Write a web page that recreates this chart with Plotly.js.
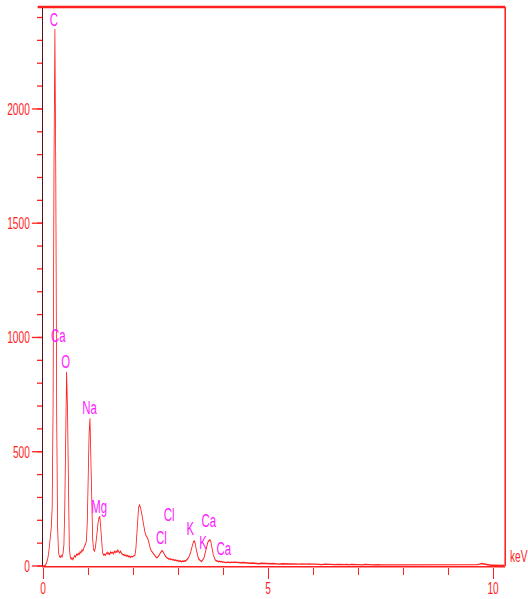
<!DOCTYPE html>
<html>
<head>
<meta charset="utf-8">
<script src="https://cdn.plot.ly/plotly-3.0.1.min.js"></script>
<style>
  html, body { margin: 0; padding: 0; overflow: hidden; background: #ffffff; }
  /* The spectrum is laid out wide and then condensed horizontally,
     giving the tall, narrow lettering of the instrument printout. */
  #chart { width: 880px; height: 599px; transform: scaleX(0.6); transform-origin: 0 0; }
</style>
</head>
<body>
<div id="chart"></div>
<script>
// EDS spectrum: counts per channel, 0.02 keV channels from 0 to 4.18 keV
var lowKeV = [
  0.00,0.02,0.04,0.06,0.08,0.10,0.12,0.14,0.16,0.18,
  0.20,0.22,0.24,0.26,0.28,0.30,0.32,0.34,0.36,0.38,
  0.40,0.42,0.44,0.46,0.48,0.50,0.52,0.54,0.56,0.58,
  0.60,0.62,0.64,0.66,0.68,0.70,0.72,0.74,0.76,0.78,
  0.80,0.82,0.84,0.86,0.88,0.90,0.92,0.94,0.96,0.98,
  1.00,1.02,1.04,1.06,1.08,1.10,1.12,1.14,1.16,1.18,
  1.20,1.22,1.24,1.26,1.28,1.30,1.32,1.34,1.36,1.38,
  1.40,1.42,1.44,1.46,1.48,1.50,1.52,1.54,1.56,1.58,
  1.60,1.62,1.64,1.66,1.68,1.70,1.72,1.74,1.76,1.78,
  1.80,1.82,1.84,1.86,1.88,1.90,1.92,1.94,1.96,1.98,
  2.00,2.02,2.04,2.06,2.08,2.10,2.12,2.14,2.16,2.18,
  2.20,2.22,2.24,2.26,2.28,2.30,2.32,2.34,2.36,2.38,
  2.40,2.42,2.44,2.46,2.48,2.50,2.52,2.54,2.56,2.58,
  2.60,2.62,2.64,2.66,2.68,2.70,2.72,2.74,2.76,2.78,
  2.80,2.82,2.84,2.86,2.88,2.90,2.92,2.94,2.96,2.98,
  3.00,3.02,3.04,3.06,3.08,3.10,3.12,3.14,3.16,3.18,
  3.20,3.22,3.24,3.26,3.28,3.30,3.32,3.34,3.36,3.38,
  3.40,3.42,3.44,3.46,3.48,3.50,3.52,3.54,3.56,3.58,
  3.60,3.62,3.64,3.66,3.68,3.70,3.72,3.74,3.76,3.78,
  3.80,3.82,3.84,3.86,3.88,3.90,3.92,3.94,3.96,3.98,
  4.00,4.02,4.04,4.06,4.08,4.10,4.12,4.14,4.16,4.18
];
var lowCounts = [
  0,0,2,8,17,32,55,90,125,170,
  260,700,1750,2350,1700,650,170,60,42,38,
  45,40,55,90,260,640,850,690,290,85,
  42,30,35,28,38,45,40,52,48,55,
  50,62,58,70,66,78,88,95,110,190,
  380,580,646,480,250,115,72,65,80,110,
  150,190,210,216,160,95,58,48,52,47,
  55,60,52,58,50,62,56,60,53,64,
  58,66,60,70,62,58,65,55,52,48,
  50,45,48,42,46,40,43,38,42,40,
  42,44,48,75,140,215,255,267,258,240,
  215,192,172,150,135,128,122,110,92,78,
  68,62,56,50,44,40,36,38,42,48,
  56,63,67,64,55,47,42,38,36,34,
  30,32,28,30,26,28,24,27,23,25,
  22,20,23,21,19,22,20,23,21,25,
  28,33,40,50,62,78,95,106,110,98,
  75,55,40,30,25,22,20,24,30,40,
  55,72,90,104,110,114,112,95,72,50,
  36,28,24,22,20,19,21,18,20,17,
  18,16,17,15,17,16,14,16,15,17
];

// High-energy tail, 0.05 keV steps from 4.20 to 10.25 keV
var highKeV = [
  4.20,4.25,4.30,4.35,4.40,4.45,4.50,
  4.55,4.60,4.65,4.70,4.75,4.80,4.85,4.90,4.95,5.00,
  5.05,5.10,5.15,5.20,5.25,5.30,5.35,5.40,5.45,5.50,
  5.55,5.60,5.65,5.70,5.75,5.80,5.85,5.90,5.95,6.00,
  6.05,6.10,6.15,6.20,6.25,6.30,6.35,6.40,6.45,6.50,
  6.55,6.60,6.65,6.70,6.75,6.80,6.85,6.90,6.95,7.00,
  7.05,7.10,7.15,7.20,7.25,7.30,7.35,7.40,7.45,7.50,
  7.55,7.60,7.65,7.70,7.75,7.80,7.85,7.90,7.95,8.00,
  8.05,8.10,8.15,8.20,8.25,8.30,8.35,8.40,8.45,8.50,
  8.55,8.60,8.65,8.70,8.75,8.80,8.85,8.90,8.95,9.00,
  9.05,9.10,9.15,9.20,9.25,9.30,9.35,9.40,9.45,9.50,
  9.55,9.60,9.65,9.70,9.75,9.80,9.85,9.90,9.95,10.00,
  10.05,10.10,10.15,10.20,10.25
];
var highCounts = [
  16,17,15,16,14,15,13,
  14,12,13,11,12,10,12,11,10,11,
  10,11,9,10,8,10,9,11,8,9,
  9,8,10,8,9,7,8,9,7,8,
  8,7,8,6,8,7,6,8,7,6,
  7,6,8,6,7,5,7,6,5,7,
  6,5,7,5,6,5,6,4,6,5,
  5,6,4,5,6,4,5,4,6,5,
  4,5,4,6,4,5,3,5,4,5,
  4,3,5,4,5,3,4,5,3,4,
  4,3,4,5,3,4,3,5,4,3,
  4,5,6,8,11,9,6,4,3,4,
  3,4,3,2,3
];

// Element line labels and where they are written (keV, counts)
var peakLabels      = ["C", "Ca", "O", "Na", "Mg", "Cl", "Cl", "K", "K", "Ca", "Ca"];
var peakLabelKeV    = [0.24, 0.335, 0.50, 1.03, 1.245, 2.80, 2.63, 3.28, 3.555, 3.69, 4.02];
var peakLabelCounts = [2392, 1008, 895, 695, 261, 225, 123, 163, 101, 200, 77];

var xTickVals = [0, 5, 10];
var yTickVals = [0, 500, 1000, 1500, 2000];

var energy = lowKeV.concat(highKeV);
var counts = lowCounts.concat(highCounts);

var RED = '#ff1f1f';
var MAGENTA = '#ff19ff';
var FONT = '"Liberation Sans", Arial, sans-serif';

var trace = {
  x: energy,
  y: counts,
  type: 'scatter',
  mode: 'lines',
  line: { color: RED, width: 1.4 },
  hoverinfo: 'skip'
};

var annotations = peakLabels.map(function (t, i) {
  return {
    text: t, x: peakLabelKeV[i], y: peakLabelCounts[i],
    xref: 'x', yref: 'y', showarrow: false,
    xanchor: 'center', yanchor: 'middle',
    font: { family: FONT, size: 19, color: MAGENTA }
  };
});
annotations.push({
  text: 'keV', x: 1.008, y: 0.017, xref: 'paper', yref: 'paper',
  showarrow: false, xanchor: 'left', yanchor: 'middle',
  font: { family: FONT, size: 17, color: RED }
});

var layout = {
  width: 880,
  height: 599,
  margin: { l: 72, r: 38, t: 7, b: 33 },
  paper_bgcolor: '#ffffff',
  plot_bgcolor: '#ffffff',
  showlegend: false,
  font: { family: FONT, size: 17, color: RED },
  xaxis: {
    range: [0, 10.27],
    showgrid: false, zeroline: false,
    showline: true, linecolor: RED, linewidth: 1.5,
    tickmode: 'array', tickvals: xTickVals, ticktext: xTickVals.map(String),
    ticks: 'outside', ticklen: 11, tickwidth: 1.7, tickcolor: RED,
    ticklabelstandoff: -5,
    tickfont: { family: FONT, size: 17, color: RED },
    minor: { dtick: 1, ticks: 'outside', ticklen: 7, tickwidth: 1.7, tickcolor: RED, showgrid: false }
  },
  yaxis: {
    range: [0, 2446],
    showgrid: false, zeroline: false,
    showline: true, linecolor: '#5a1212', linewidth: 1.8,
    tickmode: 'array', tickvals: yTickVals, ticktext: yTickVals.map(String),
    ticks: 'outside', ticklen: 17, tickwidth: 1.3, tickcolor: RED,
    tickfont: { family: FONT, size: 17, color: RED },
    minor: { dtick: 100, ticks: 'outside', ticklen: 8.5, tickwidth: 1.3, tickcolor: RED, showgrid: false }
  },
  shapes: [
    { type: 'line', xref: 'paper', yref: 'paper', x0: -0.012, x1: 1, y0: 1, y1: 1,
      line: { color: RED, width: 2.5 } },
    { type: 'line', xref: 'paper', yref: 'paper', x0: 1, x1: 1, y0: 0, y1: 1,
      line: { color: RED, width: 2.6 } }
  ],
  annotations: annotations
};

Plotly.newPlot('chart', [trace], layout, { staticPlot: true, displayModeBar: false });
</script>
</body>
</html>
